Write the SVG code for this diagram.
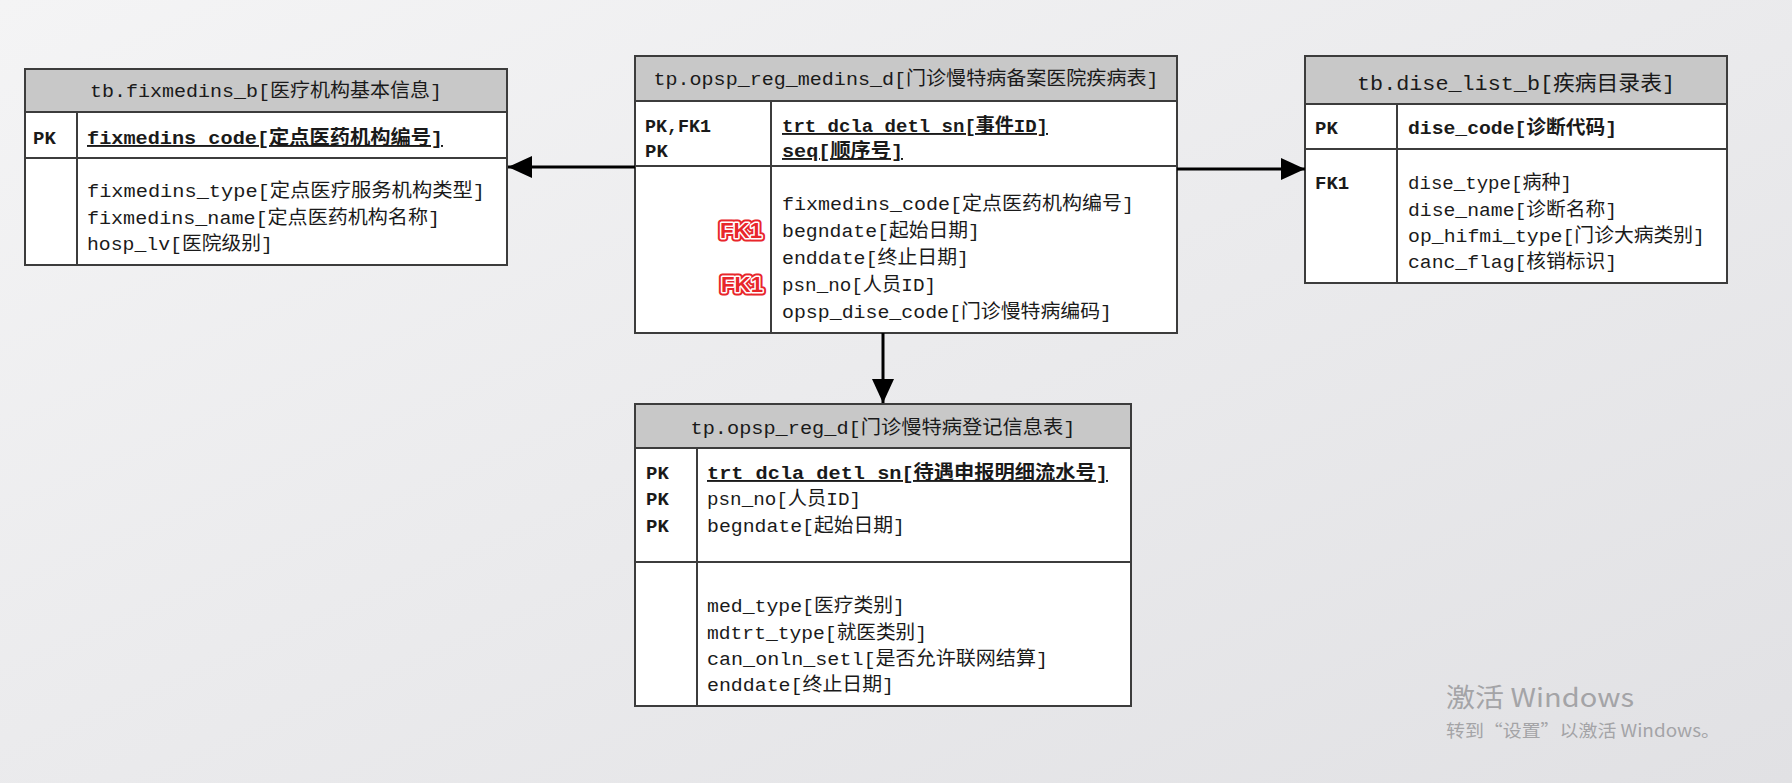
<svg xmlns="http://www.w3.org/2000/svg" width="1792" height="783" viewBox="0 0 1792 783">
<defs>
<linearGradient id="bg" x1="0" y1="0" x2="1" y2="1">
<stop offset="0" stop-color="#f4f4f5"/>
<stop offset="1" stop-color="#e1e1e4"/>
</linearGradient>
<marker id="arr" viewBox="0 0 24 22" refX="24" refY="11" markerWidth="24" markerHeight="22" markerUnits="userSpaceOnUse" orient="auto">
<path d="M0,0 L24,11 L0,22 Z" fill="#000"/>
</marker>
<style>
.box{fill:#ffffff;stroke:#3c3c3c;stroke-width:2}
.hdr{fill:#c8c8c8;stroke:#3c3c3c;stroke-width:2}
.ln{stroke:#3c3c3c;stroke-width:2;fill:none}
.t{font-family:"Liberation Mono","Noto Sans CJK SC",monospace;font-size:19px;fill:#1a1a1a}
.b{font-weight:bold}
.u{text-decoration:underline}
.m{text-anchor:middle}
.fk{font-family:"Liberation Sans","Noto Sans",sans-serif;font-size:22px;font-weight:bold;fill:#e8262b;stroke:#ffffff;stroke-width:3;paint-order:stroke;stroke-linejoin:round}
.fko{font-family:"Liberation Sans","Noto Sans",sans-serif;font-size:22px;font-weight:bold;fill:#e8262b;stroke:#e8262b;stroke-width:7;stroke-linejoin:round}
.con{stroke:#000;stroke-width:3;fill:none}
.win{font-family:"Noto Sans CJK SC","Noto Sans",sans-serif;fill:#a4a4a7}
</style>
</defs>
<rect x="0" y="0" width="1792" height="783" fill="url(#bg)"/>

<g id="fixmedins_b">
<rect class="box" x="25" y="69" width="482" height="196"/>
<rect class="hdr" x="25" y="69" width="482" height="43"/>
<line class="ln" x1="25" y1="158" x2="507" y2="158"/>
<line class="ln" x1="77" y1="112" x2="77" y2="265"/>
<text class="t m" x="266" y="97" textLength="352" lengthAdjust="spacingAndGlyphs">tb.fixmedins_b[医疗机构基本信息]</text>
<text class="t b" x="33" y="144">PK</text>
<text class="t b u" x="87" y="144" textLength="356" lengthAdjust="spacingAndGlyphs">fixmedins_code[定点医药机构编号]</text>
<text class="t" x="87" y="197" textLength="398" lengthAdjust="spacingAndGlyphs">fixmedins_type[定点医疗服务机构类型]</text>
<text class="t" x="87" y="224" textLength="353" lengthAdjust="spacingAndGlyphs">fixmedins_name[定点医药机构名称]</text>
<text class="t" x="87" y="250" textLength="186" lengthAdjust="spacingAndGlyphs">hosp_lv[医院级别]</text>
</g>

<g id="opsp_reg_medins_d">
<rect class="box" x="635" y="56" width="542" height="277"/>
<rect class="hdr" x="635" y="56" width="542" height="45"/>
<line class="ln" x1="635" y1="166" x2="1177" y2="166"/>
<line class="ln" x1="771" y1="101" x2="771" y2="333"/>
<text class="t m" x="906" y="85" textLength="505" lengthAdjust="spacingAndGlyphs">tp.opsp_reg_medins_d[门诊慢特病备案医院疾病表]</text>
<text class="t b" x="645" y="132" textLength="66" lengthAdjust="spacingAndGlyphs">PK,FK1</text>
<text class="t b" x="645" y="157">PK</text>
<text class="t b u" x="782" y="132" textLength="266" lengthAdjust="spacingAndGlyphs">trt_dcla_detl_sn[事件ID]</text>
<text class="t b u" x="782" y="157" textLength="121" lengthAdjust="spacingAndGlyphs">seq[顺序号]</text>
<text class="t" x="782" y="210" textLength="352" lengthAdjust="spacingAndGlyphs">fixmedins_code[定点医药机构编号]</text>
<text class="t" x="782" y="237" textLength="198" lengthAdjust="spacingAndGlyphs">begndate[起始日期]</text>
<text class="t" x="782" y="264" textLength="187" lengthAdjust="spacingAndGlyphs">enddate[终止日期]</text>
<text class="t" x="782" y="291" textLength="154" lengthAdjust="spacingAndGlyphs">psn_no[人员ID]</text>
<text class="t" x="782" y="318" textLength="330" lengthAdjust="spacingAndGlyphs">opsp_dise_code[门诊慢特病编码]</text>
<text class="fko" x="720" y="238" textLength="42" lengthAdjust="spacingAndGlyphs">FK1</text>
<text class="fk" x="720" y="238" textLength="42" lengthAdjust="spacingAndGlyphs">FK1</text>
<text class="fko" x="721" y="292" textLength="42" lengthAdjust="spacingAndGlyphs">FK1</text>
<text class="fk" x="721" y="292" textLength="42" lengthAdjust="spacingAndGlyphs">FK1</text>
</g>

<g id="dise_list_b">
<rect class="box" x="1305" y="56" width="422" height="227"/>
<rect class="hdr" x="1305" y="56" width="422" height="48"/>
<line class="ln" x1="1305" y1="149" x2="1727" y2="149"/>
<line class="ln" x1="1397" y1="104" x2="1397" y2="283"/>
<text class="t m" x="1516" y="90" style="font-size:21px" textLength="318" lengthAdjust="spacingAndGlyphs">tb.dise_list_b[疾病目录表]</text>
<text class="t b" x="1315" y="134">PK</text>
<text class="t b" x="1408" y="134" textLength="209" lengthAdjust="spacingAndGlyphs">dise_code[诊断代码]</text>
<text class="t b" x="1315" y="189">FK1</text>
<text class="t" x="1408" y="189" textLength="164" lengthAdjust="spacingAndGlyphs">dise_type[病种]</text>
<text class="t" x="1408" y="216" textLength="209" lengthAdjust="spacingAndGlyphs">dise_name[诊断名称]</text>
<text class="t" x="1408" y="242" textLength="297" lengthAdjust="spacingAndGlyphs">op_hifmi_type[门诊大病类别]</text>
<text class="t" x="1408" y="268" textLength="209" lengthAdjust="spacingAndGlyphs">canc_flag[核销标识]</text>
</g>

<g id="opsp_reg_d">
<rect class="box" x="635" y="404" width="496" height="302"/>
<rect class="hdr" x="635" y="404" width="496" height="44"/>
<line class="ln" x1="635" y1="562" x2="1131" y2="562"/>
<line class="ln" x1="697" y1="448" x2="697" y2="706"/>
<text class="t m" x="883" y="434" textLength="385" lengthAdjust="spacingAndGlyphs">tp.opsp_reg_d[门诊慢特病登记信息表]</text>
<text class="t b" x="646" y="479">PK</text>
<text class="t b" x="646" y="505">PK</text>
<text class="t b" x="646" y="532">PK</text>
<text class="t b u" x="707" y="479" textLength="401" lengthAdjust="spacingAndGlyphs">trt_dcla_detl_sn[待遇申报明细流水号]</text>
<text class="t" x="707" y="505" textLength="154" lengthAdjust="spacingAndGlyphs">psn_no[人员ID]</text>
<text class="t" x="707" y="532" textLength="198" lengthAdjust="spacingAndGlyphs">begndate[起始日期]</text>
<text class="t" x="707" y="612" textLength="198" lengthAdjust="spacingAndGlyphs">med_type[医疗类别]</text>
<text class="t" x="707" y="639" textLength="220" lengthAdjust="spacingAndGlyphs">mdtrt_type[就医类别]</text>
<text class="t" x="707" y="665" textLength="341" lengthAdjust="spacingAndGlyphs">can_onln_setl[是否允许联网结算]</text>
<text class="t" x="707" y="691" textLength="187" lengthAdjust="spacingAndGlyphs">enddate[终止日期]</text>
</g>

<g id="connectors">
<line class="con" x1="635" y1="167" x2="508" y2="167" marker-end="url(#arr)"/>
<line class="con" x1="1177" y1="169" x2="1305" y2="169" marker-end="url(#arr)"/>
<line class="con" x1="883" y1="333" x2="883" y2="403" marker-end="url(#arr)"/>
</g>

<g id="watermark-os">
<text class="win" x="1446" y="707" style="font-size:26px" textLength="188" lengthAdjust="spacingAndGlyphs">激活 Windows</text>
<text class="win" x="1446" y="737" style="font-size:17px" textLength="274" lengthAdjust="spacingAndGlyphs">转到“设置”以激活 Windows。</text>
</g>
</svg>
